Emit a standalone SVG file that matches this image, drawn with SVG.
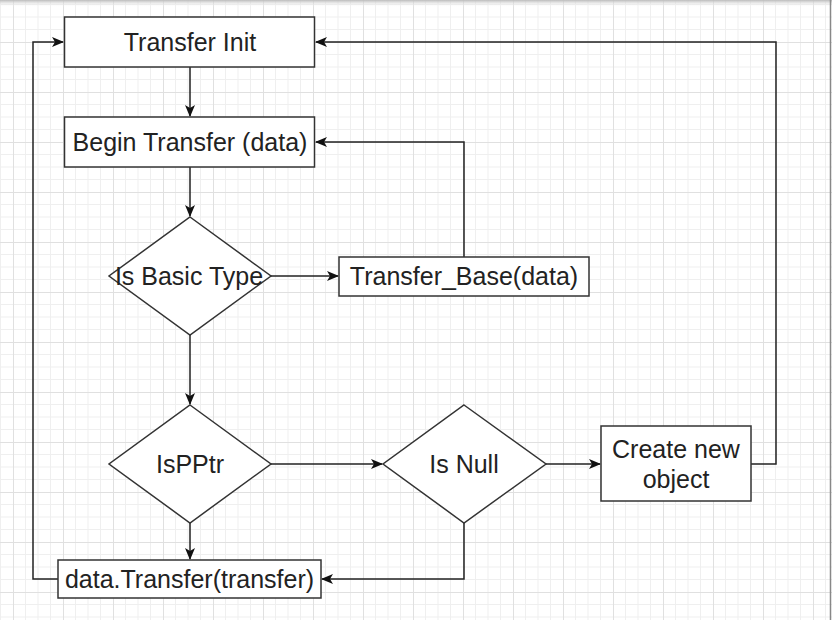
<svg xmlns="http://www.w3.org/2000/svg" width="832" height="620" viewBox="0 0 832 620">
<defs>
<pattern id="grid" x="13" y="-8" width="50" height="50" patternUnits="userSpaceOnUse">
<path d="M12.5,0V50M25,0V50M37.5,0V50M0,12.5H50M0,25H50M0,37.5H50" fill="none" stroke="#efefef" stroke-width="1"/>
<path d="M0.5,0V50M0,0.5H50" fill="none" stroke="#e0e0e0" stroke-width="1"/>
</pattern>
<linearGradient id="topshade" x1="0" y1="0" x2="0" y2="1">
<stop offset="0" stop-color="#bbbbbb"/>
<stop offset="1" stop-color="#ffffff" stop-opacity="0"/>
</linearGradient>
<marker id="arr" viewBox="0 0 12 10" markerWidth="12" markerHeight="10" refX="11" refY="5" orient="auto" markerUnits="userSpaceOnUse">
<path d="M0,0 L12,5 L0,10 L3,5 Z" fill="#111"/>
</marker>
<style>
.box{fill:#fff;stroke:#333;stroke-width:1.5}
.lbl{font-family:"Liberation Sans",Arial,sans-serif;font-size:25px;fill:#222;text-anchor:middle}
.con{fill:none;stroke:#222;stroke-width:1.5}
</style>
</defs>
<rect width="832" height="620" fill="#fff"/>
<rect width="832" height="620" fill="url(#grid)"/>
<rect width="832" height="7" fill="url(#topshade)"/>
<line x1="830.5" y1="0" x2="830.5" y2="620" stroke="#888" stroke-width="1.5"/>

<g id="connectors">
<path class="con" d="M190,67 V116" marker-end="url(#arr)"/>
<path class="con" d="M190,167 V216" marker-end="url(#arr)"/>
<path class="con" d="M271,276 H338" marker-end="url(#arr)"/>
<path class="con" d="M464,257 V142 H316" marker-end="url(#arr)"/>
<path class="con" d="M190,335 V404" marker-end="url(#arr)"/>
<path class="con" d="M271,464 H382" marker-end="url(#arr)"/>
<path class="con" d="M190,523 V559" marker-end="url(#arr)"/>
<path class="con" d="M546,464 H600" marker-end="url(#arr)"/>
<path class="con" d="M751,464 H776 V42 H316" marker-end="url(#arr)"/>
<path class="con" d="M464,523 V579 H322" marker-end="url(#arr)"/>
<path class="con" d="M58,579 H33 V42 H63" marker-end="url(#arr)"/>
</g>

<g id="transfer-init">
<rect class="box" x="64.5" y="17" width="250" height="50"/>
<text class="lbl" x="190" y="51">Transfer Init</text>
</g>
<g id="begin-transfer">
<rect class="box" x="64.5" y="117" width="250" height="50"/>
<text class="lbl" x="190" y="151">Begin Transfer (data)</text>
</g>
<g id="is-basic-type">
<path class="box" d="M190,217 L271,276 L190,335 L109,276 Z"/>
<text class="lbl" x="189" y="285">Is Basic Type</text>
</g>
<g id="transfer-base">
<rect class="box" x="339" y="257" width="250" height="39"/>
<text class="lbl" x="464" y="285">Transfer_Base(data)</text>
</g>
<g id="isppter">
<path class="box" d="M190,405 L271,464 L190,523 L109,464 Z"/>
<text class="lbl" x="190" y="473">IsPPtr</text>
</g>
<g id="is-null">
<path class="box" d="M464,405 L546,464 L464,523 L383,464 Z"/>
<text class="lbl" x="464" y="473">Is Null</text>
</g>
<g id="create-new-object">
<rect class="box" x="601" y="426" width="150" height="75"/>
<text class="lbl" x="676" y="458">Create new</text>
<text class="lbl" x="676" y="488">object</text>
</g>
<g id="data-transfer">
<rect class="box" x="58" y="560" width="263" height="38"/>
<text class="lbl" x="189.5" y="588">data.Transfer(transfer)</text>
</g>
</svg>
